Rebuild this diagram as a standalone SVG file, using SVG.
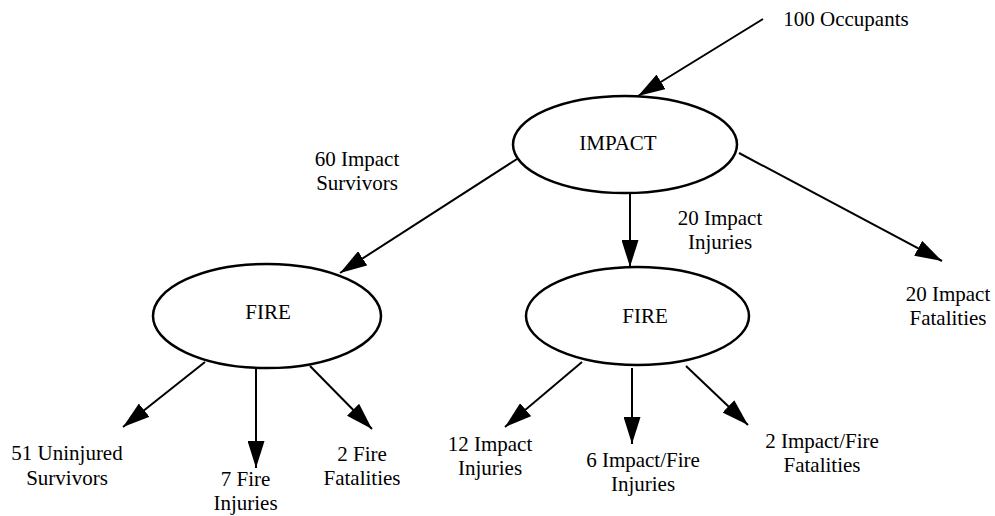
<svg xmlns="http://www.w3.org/2000/svg" width="995" height="516" viewBox="0 0 995 516">
<style>
text{font-family:'Liberation Serif','Times New Roman',Tinos,'DejaVu Serif','Noto Serif',serif;font-size:21px;fill:#000;text-anchor:middle}
.node ellipse{fill:#fff;stroke:#000;stroke-width:2.5}
.edge{stroke:#000;stroke-width:2;fill:none;marker-end:url(#arr)}
</style>
<defs>
<marker id="arr" viewBox="0 0 27 17" markerWidth="27" markerHeight="17" refX="27" refY="8.5" orient="auto" markerUnits="userSpaceOnUse">
<path d="M0,0 L27,8.5 L0,17 z" fill="#000"/>
</marker>
</defs>
<rect width="995" height="516" fill="#fff"/>
<g id="connectors">
<line class="edge" x1="763" y1="19" x2="638" y2="96"/>
<line class="edge" x1="739" y1="153" x2="942" y2="261"/>
<line class="edge" x1="630" y1="193" x2="630" y2="267"/>
<line class="edge" x1="517" y1="159" x2="340" y2="273"/>
<line class="edge" x1="205" y1="362" x2="123" y2="427"/>
<line class="edge" x1="256" y1="368" x2="256" y2="468"/>
<line class="edge" x1="310" y1="366" x2="372" y2="429"/>
<line class="edge" x1="582" y1="362" x2="505" y2="427"/>
<line class="edge" x1="632" y1="368" x2="632" y2="444"/>
<line class="edge" x1="686" y1="366" x2="748" y2="425"/>
</g>
<g id="impact" class="node">
<ellipse cx="625" cy="144.5" rx="112" ry="48.5"/>
<text x="618" y="150" font-family="Liberation Serif, serif">IMPACT</text>
</g>
<g id="fire1" class="node">
<ellipse cx="267" cy="316" rx="114" ry="52"/>
<text x="268" y="319" font-family="Liberation Serif, serif">FIRE</text>
</g>
<g id="fire2" class="node">
<ellipse cx="637.5" cy="316" rx="111.5" ry="49"/>
<text x="645" y="323" font-family="Liberation Serif, serif">FIRE</text>
</g>
<g id="labels" font-family="Liberation Serif, serif">
<g id="occupants"><text x="846" y="26">100 Occupants</text></g>
<g id="impact-survivors"><text x="357" y="166">60 Impact</text><text x="357" y="190">Survivors</text></g>
<g id="impact-injuries"><text x="720" y="225">20 Impact</text><text x="720" y="249">Injuries</text></g>
<g id="impact-fatalities"><text x="948" y="301">20 Impact</text><text x="948" y="325">Fatalities</text></g>
<g id="uninjured"><text x="67" y="460">51 Uninjured</text><text x="67" y="485">Survivors</text></g>
<g id="fire-injuries"><text x="245.5" y="486">7 Fire</text><text x="245.5" y="510">Injuries</text></g>
<g id="fire-fatalities"><text x="362" y="461">2 Fire</text><text x="362" y="485">Fatalities</text></g>
<g id="impact-injuries-2"><text x="490" y="451">12 Impact</text><text x="490" y="475">Injuries</text></g>
<g id="impact-fire-injuries"><text x="643" y="467">6 Impact/Fire</text><text x="643" y="491">Injuries</text></g>
<g id="impact-fire-fatalities"><text x="822" y="448">2 Impact/Fire</text><text x="822" y="472">Fatalities</text></g>
</g>
</svg>
